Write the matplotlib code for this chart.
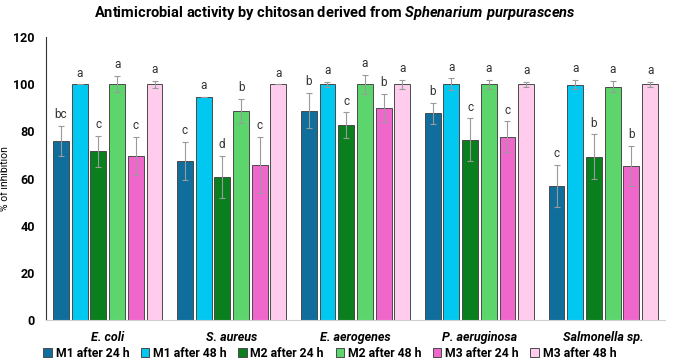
import numpy as np
import matplotlib.pyplot as plt

plt.rcParams['font.family'] = ['Roboto', 'DejaVu Sans']
plt.rcParams['mathtext.fontset'] = 'custom'
plt.rcParams['mathtext.bfit'] = 'Roboto:italic:bold'

bacteria = ['E. coli', 'S. aureus', 'E. aerogenes', 'P. aeruginosa', 'Salmonella sp.']
series = ['M1 after 24 h', 'M1 after 48 h', 'M2 after 24 h', 'M2 after 48 h',
          'M3 after 24 h', 'M3 after 48 h']
colors = ['#106E9C', '#00C8F0', '#0A7F1E', '#5DD56D', '#F067CC', '#FFCCEE']

# % of inhibition, one row per series
values = [
    [76.0, 67.5, 88.8, 87.7, 56.8],
    [100.0, 94.5, 100.0, 100.0, 99.8],
    [71.5, 60.6, 82.6, 76.5, 69.2],
    [100.0, 88.7, 100.0, 100.0, 99.0],
    [69.6, 65.8, 89.8, 77.8, 65.5],
    [100.0, 100.0, 100.0, 100.0, 100.0],
]
errors = [
    [6.3, 8.0, 7.5, 4.5, 9.0],
    [0.0, 0.0, 1.0, 2.5, 2.0],
    [6.5, 9.0, 5.5, 9.0, 9.5],
    [3.5, 5.0, 4.0, 2.0, 2.3],
    [8.0, 12.0, 6.0, 6.5, 8.5],
    [1.5, 0.0, 2.0, 1.0, 1.0],
]
letters = [
    ['bc', 'c', 'b', 'b', 'c'],
    ['a', 'a', 'a', 'a', 'a'],
    ['c', 'd', 'c', 'c', 'b'],
    ['a', 'b', 'a', 'a', 'a'],
    ['c', 'c', 'b', 'c', 'b'],
    ['a', 'a', 'a', 'a', 'a'],
]

fig = plt.figure(figsize=(6.74, 3.6), dpi=100)
ax = fig.add_axes([0.068, 0.111, 0.919, 0.786])

x = np.arange(len(bacteria))
step = 0.151
width = 0.128
for i in range(len(series)):
    pos = x + (i - 2.5) * step
    ax.bar(pos, values[i], width, color=colors[i], edgecolor='#4a4a4a',
           linewidth=0.7, label=series[i], zorder=2)
    ax.errorbar(pos, values[i], yerr=errors[i], fmt='none', ecolor='#9a9a9a',
                elinewidth=0.8, capsize=2, capthick=0.8, zorder=3)
    for j in range(len(bacteria)):
        ax.text(pos[j], values[i][j] + errors[i][j] + 2, letters[i][j],
                ha='center', va='bottom', fontsize=8.5, color='#333333')

ax.set_xlim(-0.5, len(bacteria) - 0.5)
ax.set_ylim(0, 120)
ax.set_yticks(range(0, 121, 20))
ax.set_xticks(x)
ax.set_xticklabels(bacteria, fontstyle='italic', fontweight='bold', fontsize=9)
for lab in ax.get_yticklabels():
    lab.set_fontweight('bold')
    lab.set_fontsize(9)
ax.tick_params(axis='y', length=0, pad=8)
ax.tick_params(axis='x', length=0, pad=8)

ax.spines['top'].set_visible(False)
ax.spines['right'].set_visible(False)
ax.spines['left'].set_color('#333333')
ax.spines['left'].set_linewidth(0.8)
ax.spines['bottom'].set_color('#d0d0d0')

ax.set_ylabel('% of inhibition', fontsize=7.5)
ax.yaxis.set_label_coords(-0.058, 0.5)

fig.text(0.497, 0.965, 'Antimicrobial activity by chitosan derived from $\\mathbfit{Sphenarium\\ purpurascens}$',
         ha='center', va='center', fontsize=10.5, fontweight='bold')

ax.legend(loc='upper left', bbox_to_anchor=(-0.012, -0.078), ncol=6, frameon=False,
          handlelength=0.7, handleheight=0.7, handletextpad=0.3,
          columnspacing=0.95, borderaxespad=0, prop={'weight': 'bold', 'size': 8.8})

fig.savefig('out.png', dpi=100)
